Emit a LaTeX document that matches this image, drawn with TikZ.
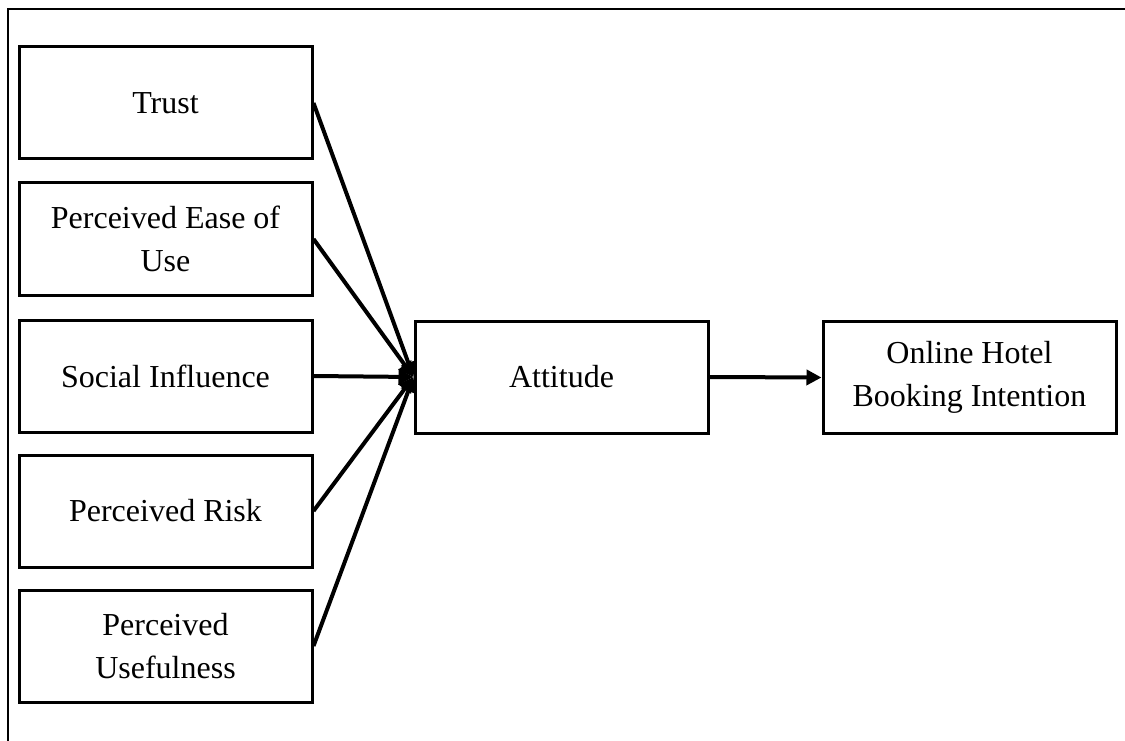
\documentclass[tikz,border=0pt]{standalone}
\usepackage{fontspec}
\setmainfont{Liberation Serif}
\usetikzlibrary{arrows.meta}
\begin{document}
\begin{tikzpicture}[x=1pt,y=-1pt,
  box/.style={draw,line width=3pt,minimum width=293pt,minimum height=112pt,inner sep=0pt,align=center,font=\fontsize{32}{43}\selectfont},
  conn/.style={line width=4pt,-{Triangle[length=15pt,width=15pt]}}]
\useasboundingbox (0,0) rectangle (1125,741);
\draw[line width=2.2pt] (8,741) coordinate (fb) -- (8,9) coordinate (fc) -- (1125,9) coordinate (fr);
\node[box] (trust) at (165.5,103) {Trust};
\node[box] (peu) at (165.5,239) {Perceived Ease of\\Use};
\node[box] (si) at (165.5,376) {Social Influence};
\node[box] (pr) at (165.5,511) {Perceived Risk};
\node[box] (pu) at (165.5,646) {Perceived\\Usefulness};
\node[box] (att) at (561.5,377) {Attitude};
\node[box] (ohb) at (969.5,377.5) {Online Hotel\\Booking Intention};
\foreach \s in {trust,peu,si,pr,pu}{
  \draw[conn] (\s.east) -- (att.west);
}
\draw[conn] (att.east) -- (ohb.west);
\end{tikzpicture}
\end{document}
